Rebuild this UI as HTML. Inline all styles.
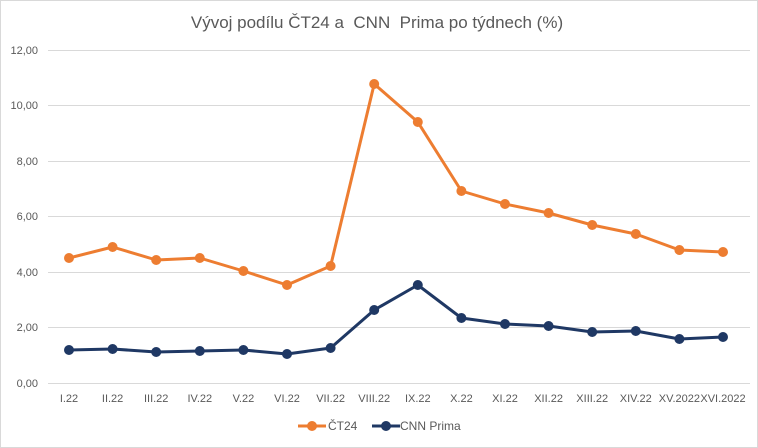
<!DOCTYPE html>
<html><head><meta charset="utf-8"><style>
html,body{margin:0;padding:0;background:#fff}
svg{display:block;font-family:"Liberation Sans",sans-serif}
</style></head><body>
<svg width="758" height="448" viewBox="0 0 758 448">
<rect x="0.5" y="0.5" width="757" height="447" fill="#fff" stroke="#d9d9d9"/>
<text x="377" y="28" text-anchor="middle" font-size="17" fill="#595959">Vývoj podílu ČT24 a &#160;CNN &#160;Prima po týdnech (%)</text>
<g stroke="#d9d9d9" stroke-width="1">
<line x1="48" x2="750" y1="50.5" y2="50.5"/>
<line x1="48" x2="750" y1="105.5" y2="105.5"/>
<line x1="48" x2="750" y1="161.5" y2="161.5"/>
<line x1="48" x2="750" y1="216.5" y2="216.5"/>
<line x1="48" x2="750" y1="272.5" y2="272.5"/>
<line x1="48" x2="750" y1="327.5" y2="327.5"/>
<line x1="48" x2="750" y1="383.5" y2="383.5"/>
</g>
<g font-size="11" fill="#595959" text-anchor="end">
<text x="38" y="54">12,00</text><text x="38" y="109">10,00</text><text x="38" y="165">8,00</text>
<text x="38" y="220">6,00</text><text x="38" y="276">4,00</text><text x="38" y="331">2,00</text><text x="38" y="387">0,00</text>
</g>
<g font-size="11" fill="#595959" text-anchor="middle">
<text x="69" y="402">I.22</text><text x="112.6" y="402">II.22</text><text x="156.2" y="402">III.22</text>
<text x="199.8" y="402">IV.22</text><text x="243.4" y="402">V.22</text><text x="287" y="402">VI.22</text>
<text x="330.6" y="402">VII.22</text><text x="374.2" y="402">VIII.22</text><text x="417.8" y="402">IX.22</text>
<text x="461.4" y="402">X.22</text><text x="505" y="402">XI.22</text><text x="548.6" y="402">XII.22</text>
<text x="592.2" y="402">XIII.22</text><text x="635.8" y="402">XIV.22</text><text x="679.4" y="402">XV.2022</text>
<text x="723" y="402">XVI.2022</text>
</g>
<g fill="#ED7D31" stroke="#ED7D31">
<polyline fill="none" stroke-width="3" stroke-linejoin="round" points="69,258 112.6,247 156.2,260 199.8,258 243.4,271 287,285 330.6,266 374.2,84 417.8,122 461.4,191 505,204 548.6,213 592.2,225 635.8,234 679.4,250 723,252"/>
<g stroke="none">
<circle cx="69" cy="258" r="5"/><circle cx="112.6" cy="247" r="5"/><circle cx="156.2" cy="260" r="5"/><circle cx="199.8" cy="258" r="5"/><circle cx="243.4" cy="271" r="5"/><circle cx="287" cy="285" r="5"/><circle cx="330.6" cy="266" r="5"/><circle cx="374.2" cy="84" r="5"/><circle cx="417.8" cy="122" r="5"/><circle cx="461.4" cy="191" r="5"/><circle cx="505" cy="204" r="5"/><circle cx="548.6" cy="213" r="5"/><circle cx="592.2" cy="225" r="5"/><circle cx="635.8" cy="234" r="5"/><circle cx="679.4" cy="250" r="5"/><circle cx="723" cy="252" r="5"/>
</g></g>
<g fill="#1F3864" stroke="#1F3864">
<polyline fill="none" stroke-width="3" stroke-linejoin="round" points="69,350 112.6,349 156.2,352 199.8,351 243.4,350 287,354 330.6,348 374.2,310 417.8,285 461.4,318 505,324 548.6,326 592.2,332 635.8,331 679.4,339 723,337"/>
<g stroke="none">
<circle cx="69" cy="350" r="5"/><circle cx="112.6" cy="349" r="5"/><circle cx="156.2" cy="352" r="5"/><circle cx="199.8" cy="351" r="5"/><circle cx="243.4" cy="350" r="5"/><circle cx="287" cy="354" r="5"/><circle cx="330.6" cy="348" r="5"/><circle cx="374.2" cy="310" r="5"/><circle cx="417.8" cy="285" r="5"/><circle cx="461.4" cy="318" r="5"/><circle cx="505" cy="324" r="5"/><circle cx="548.6" cy="326" r="5"/><circle cx="592.2" cy="332" r="5"/><circle cx="635.8" cy="331" r="5"/><circle cx="679.4" cy="339" r="5"/><circle cx="723" cy="337" r="5"/>
</g></g>
<line x1="298" x2="326" y1="426" y2="426" stroke="#ED7D31" stroke-width="3"/><circle cx="312" cy="426" r="5" fill="#ED7D31"/>
<text x="328" y="430" font-size="12" fill="#595959">ČT24</text>
<line x1="372" x2="400" y1="426" y2="426" stroke="#1F3864" stroke-width="3"/><circle cx="386" cy="426" r="5" fill="#1F3864"/>
<text x="400" y="430" font-size="12" fill="#595959">CNN Prima</text>
</svg>
</body></html>
